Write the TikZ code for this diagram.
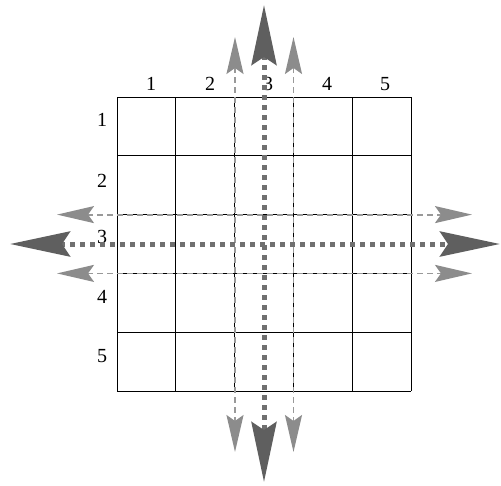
\documentclass[tikz,border=0pt]{standalone}
\usepackage{fontspec}
\setmainfont{Liberation Serif}
\usetikzlibrary{arrows.meta}
\definecolor{bigc}{HTML}{5F5F5F}
\definecolor{thinc}{HTML}{8C8C8C}
\definecolor{dotc}{HTML}{707070}
\definecolor{dashc}{HTML}{999999}
\tikzset{
  gridline/.style={line width=0.9pt, black},
  thinarrow/.style={line width=1.8pt, dashc, dash pattern=on 6pt off 4pt,
    {Stealth[length=37pt,width=17pt,inset=6pt,color=thinc,fill=thinc]}-{Stealth[length=37pt,width=17pt,inset=6pt,color=thinc,fill=thinc]}},
  bigarrow/.style={line width=5pt, dotc, dash pattern=on 5pt off 5pt,
    {Stealth[length=60pt,width=25pt,inset=8pt,color=bigc,fill=bigc]}-{Stealth[length=60pt,width=25pt,inset=8pt,color=bigc,fill=bigc]}},
  lbl/.style={font=\fontsize{20}{22}\selectfont, inner sep=0pt}
}
\begin{document}
\begin{tikzpicture}[x=1pt,y=-1pt]
\useasboundingbox (0,0) rectangle (501,485);
% grid
\foreach \i in {0,...,5}{
  \draw[gridline] ({117+58.8*\i},97) -- ({117+58.8*\i},391);
  \draw[gridline] (117,{97+58.8*\i}) -- (411,{97+58.8*\i});
}
% column labels
\foreach \t/\x in {1/151,2/210,3/268,4/327,5/385}
  \node[lbl] (c\t) at (\x,84) {\t};
% row labels
\foreach \t/\y in {1/120,2/181,3/237,4/297,5/356}
  \node[lbl] (r\t) at (102,\y) {\t};
% arrow end points
\coordinate (vt1) at (235,37);  \coordinate (vb1) at (235,452);
\coordinate (vt2) at (293.5,37); \coordinate (vb2) at (293.5,452);
\coordinate (vt0) at (264,5);  \coordinate (vb0) at (264,482);
\coordinate (hl1) at (57,214.6); \coordinate (hr1) at (472,214.6);
\coordinate (hl2) at (57,273.4); \coordinate (hr2) at (472,273.4);
\coordinate (hl0) at (10,244);  \coordinate (hr0) at (500,244);
\draw[thinarrow] (vt1) -- (vb1);
\draw[thinarrow] (vt2) -- (vb2);
\draw[thinarrow] (hl1) -- (hr1);
\draw[thinarrow] (hl2) -- (hr2);
\draw[bigarrow] (vt0) -- (vb0);
\draw[bigarrow] (hl0) -- (hr0);
\end{tikzpicture}
\end{document}
